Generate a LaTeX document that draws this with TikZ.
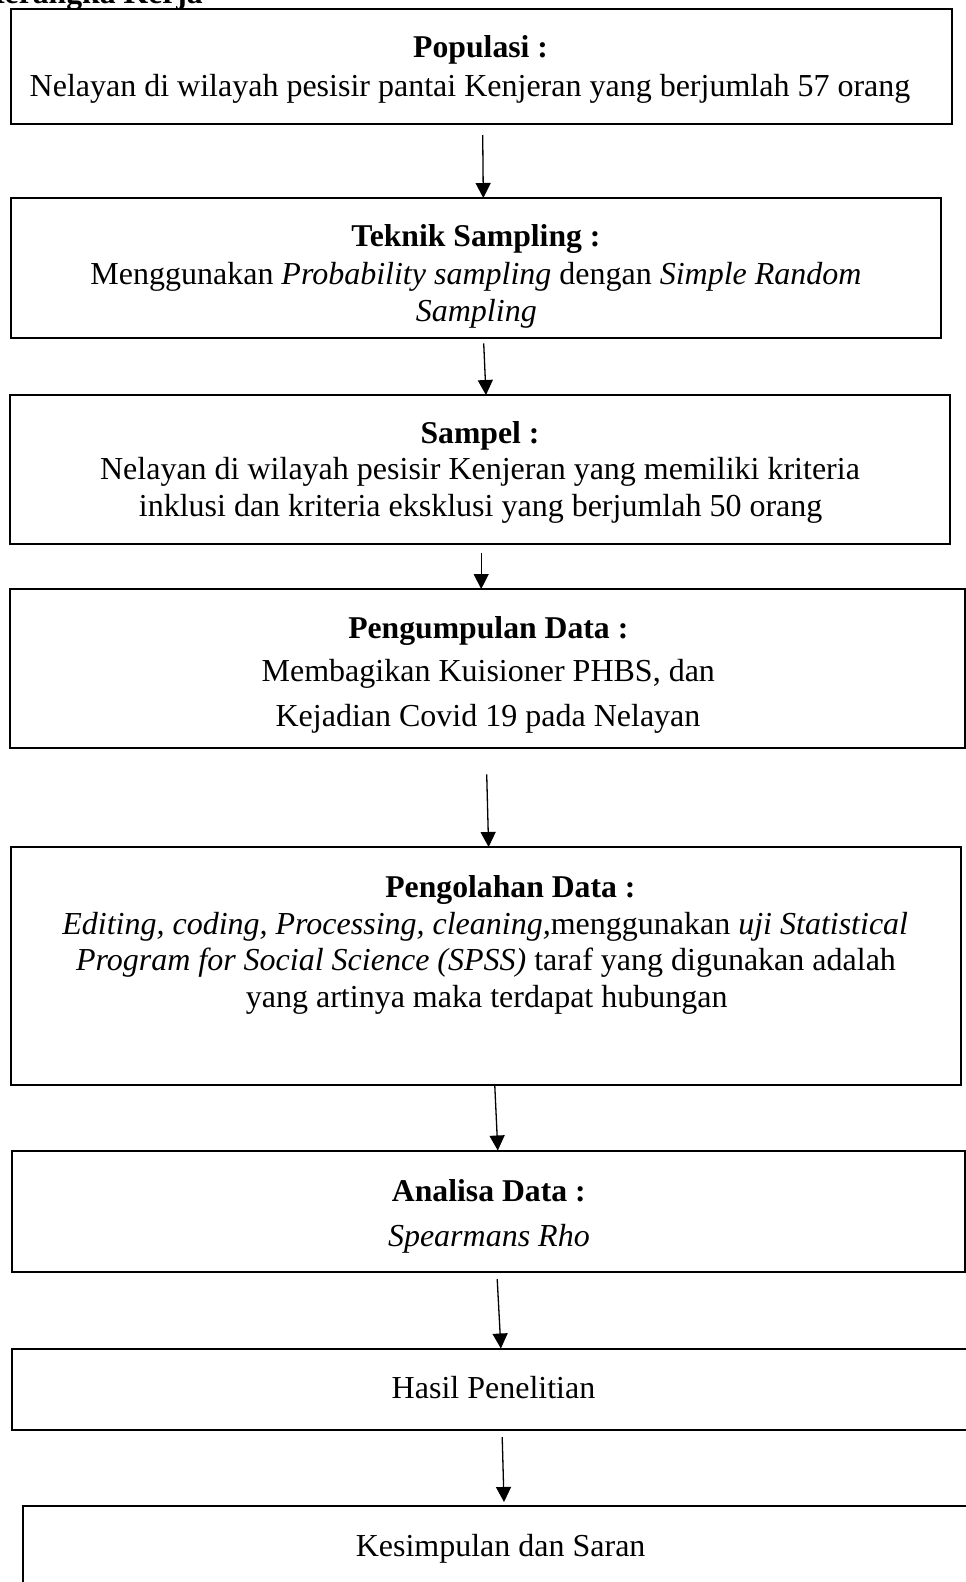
\documentclass[tikz,border=0pt]{standalone}
\usepackage{fontspec}
\setmainfont{Liberation Serif}
\usetikzlibrary{arrows.meta}
\begin{document}
\begin{tikzpicture}[x=1pt,y=-1pt,
  box/.style={draw=black,line width=2pt,rectangle,inner sep=0pt,outer sep=0pt},
  txt/.style={anchor=base,inner sep=0pt,font=\fontsize{32}{37}\selectfont},
  hd/.style={txt,font=\fontsize{31.7}{37}\selectfont\bfseries},
  arr/.style={line width=1.3pt,-{Triangle[width=15pt,length=15pt]}}]
\useasboundingbox (0,0) rectangle (966,1582);
\fill[white] (0,0) rectangle (966,1582);
% title (cut off at the top edge, as in the source)
\node[hd,anchor=base east] (title) at (203,3) {Kerangka Kerja};
% boxes
\node[box,minimum width=941pt,minimum height=115pt] (b1) at (481.5,66.5) {};
\node[box,minimum width=930pt,minimum height=140pt] (b2) at (476,268) {};
\node[box,minimum width=940pt,minimum height=149pt] (b3) at (480,469.5) {};
\node[box,minimum width=955pt,minimum height=159pt] (b4) at (487.5,668.5) {};
\node[box,minimum width=950pt,minimum height=238pt] (b5) at (486,966) {};
\node[box,minimum width=953pt,minimum height=121pt] (b6) at (488.5,1211) {};
\node[box,minimum width=968pt,minimum height=81pt] (b7) at (496,1389) {};
\node[box,minimum width=967pt,minimum height=114pt] (b8) at (506.5,1563) {};
% texts
\node[hd] (t1h) at (480.6,57) {Populasi :};
\node[txt] (t1a) at (470,96.5) {Nelayan di wilayah pesisir pantai Kenjeran yang berjumlah 57 orang};
\node[hd] (t2h) at (476,246.5) {Teknik Sampling :};
\node[txt] (t2a) at (476,284.5) {Menggunakan \textit{Probability sampling} dengan \textit{Simple Random}};
\node[txt] (t2b) at (476.3,321) {\textit{Sampling}};
\node[hd] (t3h) at (480,443.3) {Sampel :};
\node[txt] (t3a) at (480,479.3) {Nelayan di wilayah pesisir Kenjeran yang memiliki kriteria};
\node[txt] (t3b) at (480.6,516.3) {inklusi dan kriteria eksklusi yang berjumlah 50 orang};
\node[hd] (t4h) at (488.3,638.3) {Pengumpulan Data :};
\node[txt] (t4a) at (488.3,681.7) {Membagikan Kuisioner PHBS, dan};
\node[txt] (t4b) at (488,726.2) {Kejadian Covid 19 pada Nelayan};
\node[hd] (t5h) at (510.4,897.7) {Pengolahan Data :};
\node[txt] (t5a) at (485.2,934.2) {\textit{Editing, coding, Processing, cleaning,}menggunakan \textit{uji Statistical}};
\node[txt] (t5b) at (486,970.5) {\textit{Program for Social Science (SPSS)} taraf yang digunakan adalah};
\node[txt] (t5c) at (486.7,1007) {yang artinya maka terdapat hubungan};
\node[hd] (t6h) at (488.8,1201) {Analisa Data :};
\node[txt] (t6a) at (488.9,1246.5) {\textit{Spearmans Rho}};
\node[txt] (t7) at (493.5,1398.5) {Hasil Penelitian};
\node[txt] (t8) at (500.6,1556.6) {Kesimpulan dan Saran};
% arrow start points
\coordinate (a1) at (482.7,135);
\coordinate (a2) at (483.7,343.3);
\coordinate (a3) at (481.2,552.7);
\coordinate (a4) at (486.7,774.3);
\coordinate (a5) at (494.8,1086);
\coordinate (a6) at (497.2,1279);
\coordinate (a7) at (502.2,1437);
% arrows
\draw[arr] (a1) -- ([xshift=7.3pt]b2.north);
\draw[arr] (a2) -- ([xshift=6pt]b3.north);
\draw[arr] (a3) -- ([xshift=-6.3pt]b4.north);
\draw[arr] (a4) -- ([xshift=2.6pt]b5.north);
\draw[arr] (a5) -- ([xshift=9.3pt]b6.north);
\draw[arr] (a6) -- ([xshift=4.9pt]b7.north);
\draw[arr] (a7) -- ([xshift=-2.5pt,yshift=4pt]b8.north);
\end{tikzpicture}
\end{document}
